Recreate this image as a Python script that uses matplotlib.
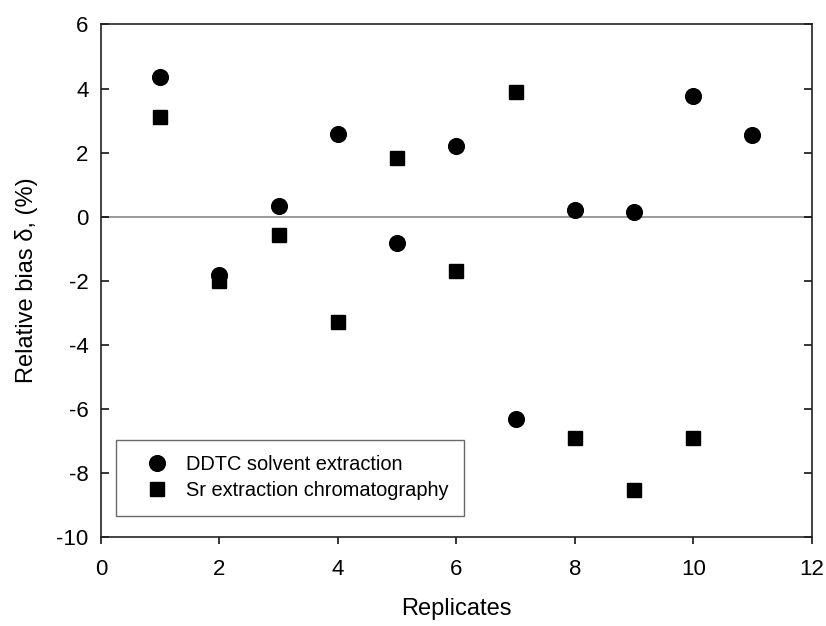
import matplotlib
matplotlib.use("Agg")
import matplotlib.pyplot as plt

plt.rcParams['font.family'] = ['Liberation Sans', 'DejaVu Sans']
plt.rcParams['axes.unicode_minus'] = False

# replicate numbers
ddtc_x = [1, 2, 3, 4, 5, 6, 7, 8, 9, 10, 11]
ddtc_y = [4.35, -1.83, 0.33, 2.58, -0.82, 2.21, -6.32, 0.20, 0.15, 3.78, 2.55]

sr_x = [1, 2, 3, 4, 5, 6, 7, 8, 9, 10]
sr_y = [3.12, -2.0, -0.59, -3.28, 1.84, -1.69, 3.89, -6.91, -8.54, -6.91]

fig = plt.figure(figsize=(8.26, 6.26), dpi=100)
ax = fig.add_axes([0.1223, 0.1427, 0.8604, 0.8182])

ax.axhline(0, color="#808080", lw=1.1, zorder=1)
ax.plot(ddtc_x, ddtc_y, "o", color="black", ms=11.3, ls="none",
        label="DDTC solvent extraction", zorder=3)
ax.plot(sr_x, sr_y, "s", color="black", ms=9.6, ls="none",
        label="Sr extraction chromatography", zorder=3)

ax.set_xlim(0, 12)
ax.set_ylim(-10, 6)
ax.set_xticks(range(0, 13, 2))
ax.set_yticks(range(-10, 7, 2))

for s in ax.spines.values():
    s.set_linewidth(1.2)
    s.set_color("#222222")

ax.tick_params(axis="x", direction="out", length=5, width=1.1, labelsize=16, pad=11)
ax.tick_params(axis="y", direction="in", length=5.5, width=1.1, labelsize=16, pad=9,
               right=True)

ax.set_xlabel("Replicates", fontsize=17, labelpad=13)
ax.set_ylabel("Relative bias δ, (%)", fontsize=17, labelpad=13)

leg = ax.legend(loc="lower left", bbox_to_anchor=(0.0207, 0.0404), fontsize=14.4,
                frameon=True, fancybox=False, borderpad=0.78, handletextpad=0.15,
                labelspacing=0.35, borderaxespad=0, handlelength=2.6)
leg.get_frame().set_edgecolor("#444444")
leg.get_frame().set_linewidth(1.0)

fig.savefig("out.png", dpi=100)
